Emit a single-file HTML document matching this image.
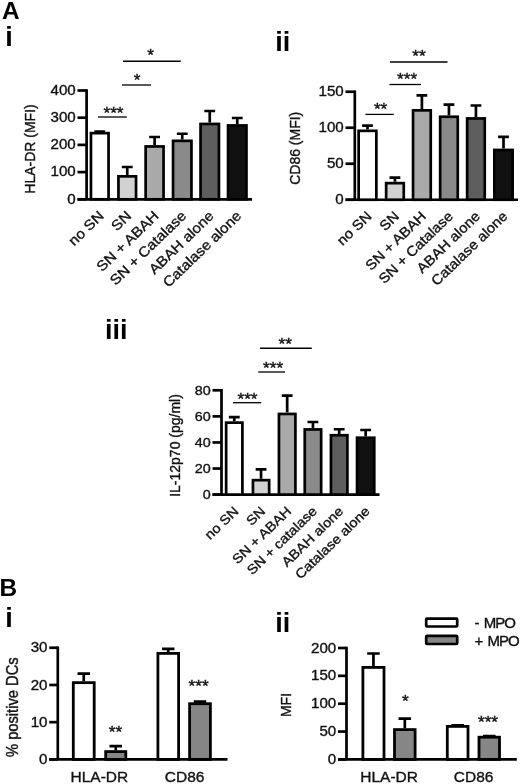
<!DOCTYPE html>
<html lang="en"><head><meta charset="utf-8"><title>Figure</title>
<style>
html,body{margin:0;padding:0;background:#fff}
svg{display:block}
text{stroke:#111;stroke-width:0.35px;font-family:"Liberation Sans",Arial,Helvetica,sans-serif;fill:#111;font-size:14px;letter-spacing:0}
.a{stroke:#000;stroke-width:2.7;fill:none}
.l{stroke:#000;stroke-width:2.7;fill:none}
.s{stroke:#000;stroke-width:1.3;fill:none}
.b{stroke:#000;stroke-width:2.7}
.tk{text-anchor:end}
.st{text-anchor:middle;font-size:16px}
.xl{text-anchor:end}
.yl{text-anchor:middle}
.cl{text-anchor:middle;font-size:15.5px}
.lg{font-size:15px;letter-spacing:-1px;word-spacing:2px}
.pl{font-weight:bold;fill:#000;letter-spacing:0;stroke:none}
</style></head><body>
<svg width="520" height="784" viewBox="0 0 520 784">
<rect width="520" height="784" fill="#fff"/>
<path d="M86.60 89.15V199.30M77.50 199.30H252.00" class="a"/><path d="M77.50 199.30H86.60" class="a"/><text transform="translate(75.70 203.50) scale(1.08 1)" class="tk">0</text><path d="M77.50 172.10H86.60" class="a"/><text transform="translate(75.70 176.30) scale(1.08 1)" class="tk">100</text><path d="M77.50 144.90H86.60" class="a"/><text transform="translate(75.70 149.10) scale(1.08 1)" class="tk">200</text><path d="M77.50 117.70H86.60" class="a"/><text transform="translate(75.70 121.90) scale(1.08 1)" class="tk">300</text><path d="M77.50 90.50H86.60" class="a"/><text transform="translate(75.70 94.70) scale(1.08 1)" class="tk">400</text>
<path d="M99.75 131.80V131.60M94.35 131.60H105.15" class="l"/><rect x="90.95" y="133.15" width="17.60" height="66.15" fill="#ffffff" class="b" style="stroke-width:2.7"/>
<path d="M127.25 175.00V167.00M121.85 167.00H132.65" class="l"/><rect x="118.45" y="176.35" width="17.60" height="22.95" fill="#d2d2d2" class="b" style="stroke-width:2.7"/>
<path d="M154.60 145.10V137.00M149.20 137.00H160.00" class="l"/><rect x="145.65" y="146.45" width="17.90" height="52.85" fill="#a9a9a9" class="b" style="stroke-width:2.7"/>
<path d="M182.25 139.50V133.75M176.85 133.75H187.65" class="l"/><rect x="173.05" y="140.85" width="18.40" height="58.45" fill="#8a8a8a" class="b" style="stroke-width:2.7"/>
<path d="M209.75 122.60V111.00M204.35 111.00H215.15" class="l"/><rect x="200.55" y="123.95" width="18.40" height="75.35" fill="#5e5e5e" class="b" style="stroke-width:2.7"/>
<path d="M237.25 124.10V118.00M231.85 118.00H242.65" class="l"/><rect x="228.05" y="125.45" width="18.40" height="73.85" fill="#111111" class="b" style="stroke-width:2.7"/>
<path d="M123.00 61.25H180.75" class="s"/><text transform="translate(150.70 61.25) scale(1.08 1)" class="st">*</text>
<path d="M122.00 85.00H151.00" class="s"/><text transform="translate(137.00 86.00) scale(1.08 1)" class="st">*</text>
<path d="M98.00 117.00H126.80" class="s"/><text transform="translate(113.50 119.00) scale(1.08 1)" class="st">***</text>
<text transform="translate(104.75 216.80) rotate(-44) scale(1.1 1)" class="xl">no SN</text>
<text transform="translate(132.25 216.80) rotate(-44) scale(1.1 1)" class="xl">SN</text>
<text transform="translate(159.60 216.80) rotate(-44) scale(1.1 1)" class="xl">SN + ABAH</text>
<text transform="translate(187.25 216.80) rotate(-44) scale(1.1 1)" class="xl">SN + Catalase</text>
<text transform="translate(214.75 216.80) rotate(-44) scale(1.1 1)" class="xl">ABAH alone</text>
<text transform="translate(242.25 216.80) rotate(-44) scale(1.1 1)" class="xl">Catalase alone</text>
<text transform="translate(35.20 149.00) rotate(-90) scale(1.0 1.04)" class="yl">HLA-DR (MFI)</text>
<path d="M354.80 90.40V199.75M345.50 199.75H518.00" class="a"/><path d="M345.50 199.75H354.80" class="a"/><text transform="translate(343.70 203.85) scale(1.08 1)" class="tk">0</text><path d="M345.50 163.75H354.80" class="a"/><text transform="translate(343.70 167.85) scale(1.08 1)" class="tk">50</text><path d="M345.50 127.75H354.80" class="a"/><text transform="translate(343.70 131.85) scale(1.08 1)" class="tk">100</text><path d="M345.50 91.75H354.80" class="a"/><text transform="translate(343.70 95.85) scale(1.08 1)" class="tk">150</text>
<path d="M367.50 129.50V125.60M362.10 125.60H372.90" class="l"/><rect x="358.65" y="130.85" width="17.70" height="68.90" fill="#ffffff" class="b" style="stroke-width:2.7"/>
<path d="M394.95 181.80V177.60M389.55 177.60H400.35" class="l"/><rect x="386.15" y="183.15" width="17.60" height="16.60" fill="#d2d2d2" class="b" style="stroke-width:2.7"/>
<path d="M421.90 109.00V95.40M416.50 95.40H427.30" class="l"/><rect x="413.05" y="110.35" width="17.70" height="89.40" fill="#a9a9a9" class="b" style="stroke-width:2.7"/>
<path d="M448.95 115.40V104.60M443.55 104.60H454.35" class="l"/><rect x="440.15" y="116.75" width="17.60" height="83.00" fill="#8a8a8a" class="b" style="stroke-width:2.7"/>
<path d="M475.95 117.10V105.50M470.55 105.50H481.35" class="l"/><rect x="467.15" y="118.45" width="17.60" height="81.30" fill="#5e5e5e" class="b" style="stroke-width:2.7"/>
<path d="M503.50 148.60V136.80M498.10 136.80H508.90" class="l"/><rect x="494.35" y="149.95" width="18.30" height="49.80" fill="#111111" class="b" style="stroke-width:2.7"/>
<path d="M390.00 62.00H447.50" class="s"/><text transform="translate(418.90 62.00) scale(1.08 1)" class="st">**</text>
<path d="M389.50 84.50H421.00" class="s"/><text transform="translate(407.20 85.40) scale(1.08 1)" class="st">***</text>
<path d="M365.50 114.40H393.75" class="s"/><text transform="translate(380.60 115.30) scale(1.08 1)" class="st">**</text>
<text transform="translate(372.50 217.25) rotate(-44) scale(1.07 1)" class="xl">no SN</text>
<text transform="translate(399.95 217.25) rotate(-44) scale(1.07 1)" class="xl">SN</text>
<text transform="translate(426.90 217.25) rotate(-44) scale(1.07 1)" class="xl">SN + ABAH</text>
<text transform="translate(453.95 217.25) rotate(-44) scale(1.07 1)" class="xl">SN + Catalase</text>
<text transform="translate(480.95 217.25) rotate(-44) scale(1.07 1)" class="xl">ABAH alone</text>
<text transform="translate(508.50 217.25) rotate(-44) scale(1.07 1)" class="xl">Catalase alone</text>
<text transform="translate(300.00 148.30) rotate(-90) scale(1.0 1.04)" class="yl">CD86 (MFI)</text>
<path d="M221.50 388.95V494.60M212.50 494.60H379.50" class="a"/><path d="M212.50 494.60H221.50" class="a"/><text transform="translate(210.70 499.20) scale(1.08 1)" class="tk" style="font-size:13.30px">0</text><path d="M212.50 468.53H221.50" class="a"/><text transform="translate(210.70 473.13) scale(1.08 1)" class="tk" style="font-size:13.30px">20</text><path d="M212.50 442.45H221.50" class="a"/><text transform="translate(210.70 447.05) scale(1.08 1)" class="tk" style="font-size:13.30px">40</text><path d="M212.50 416.38H221.50" class="a"/><text transform="translate(210.70 420.98) scale(1.08 1)" class="tk" style="font-size:13.30px">60</text><path d="M212.50 390.30H221.50" class="a"/><text transform="translate(210.70 394.90) scale(1.08 1)" class="tk" style="font-size:13.30px">80</text>
<path d="M234.28 421.30V417.20M228.88 417.20H239.68" class="l"/><rect x="226.15" y="422.65" width="16.25" height="71.95" fill="#ffffff" class="b" style="stroke-width:2.7"/>
<path d="M261.05 478.80V469.40M255.65 469.40H266.45" class="l"/><rect x="252.95" y="480.15" width="16.20" height="14.45" fill="#d2d2d2" class="b" style="stroke-width:2.7"/>
<path d="M287.18 412.60V395.60M281.78 395.60H292.57" class="l"/><rect x="278.95" y="413.95" width="16.45" height="80.65" fill="#a9a9a9" class="b" style="stroke-width:2.7"/>
<path d="M312.95 428.10V422.00M307.55 422.00H318.35" class="l"/><rect x="304.75" y="429.45" width="16.40" height="65.15" fill="#8a8a8a" class="b" style="stroke-width:2.7"/>
<path d="M339.18 433.90V429.25M333.78 429.25H344.57" class="l"/><rect x="330.95" y="435.25" width="16.45" height="59.35" fill="#5e5e5e" class="b" style="stroke-width:2.7"/>
<path d="M365.65 436.40V430.00M360.25 430.00H371.05" class="l"/><rect x="357.05" y="437.75" width="17.20" height="56.85" fill="#111111" class="b" style="stroke-width:2.7"/>
<path d="M260.00 348.25H311.75" class="s"/><text transform="translate(285.20 350.00) scale(1.08 1)" class="st">**</text>
<path d="M258.25 372.00H285.00" class="s"/><text transform="translate(273.20 374.00) scale(1.08 1)" class="st">***</text>
<path d="M233.00 402.70H261.20" class="s"/><text transform="translate(247.50 405.30) scale(1.08 1)" class="st">***</text>
<text transform="translate(239.28 512.10) rotate(-44) scale(1.1 1)" class="xl" style="font-size:13.30px">no SN</text>
<text transform="translate(266.05 512.10) rotate(-44) scale(1.1 1)" class="xl" style="font-size:13.30px">SN</text>
<text transform="translate(292.18 512.10) rotate(-44) scale(1.1 1)" class="xl" style="font-size:13.30px">SN + ABAH</text>
<text transform="translate(317.95 512.10) rotate(-44) scale(1.1 1)" class="xl" style="font-size:13.30px">SN + catalase</text>
<text transform="translate(344.18 512.10) rotate(-44) scale(1.1 1)" class="xl" style="font-size:13.30px">ABAH alone</text>
<text transform="translate(370.65 512.10) rotate(-44) scale(1.1 1)" class="xl" style="font-size:13.30px">Catalase alone</text>
<text transform="translate(180.00 445.50) rotate(-90) scale(1.0 1.04)" class="yl">IL-12p70 (pg/ml)</text>
<path d="M57.80 646.40V759.40M49.25 759.40H227.50" class="a"/><path d="M49.25 759.40H57.80" class="a"/><text transform="translate(47.45 764.00) scale(1.08 1)" class="tk">0</text><path d="M49.25 722.18H57.80" class="a"/><text transform="translate(47.45 726.78) scale(1.08 1)" class="tk">10</text><path d="M49.25 684.97H57.80" class="a"/><text transform="translate(47.45 689.57) scale(1.08 1)" class="tk">20</text><path d="M49.25 647.75H57.80" class="a"/><text transform="translate(47.45 652.35) scale(1.08 1)" class="tk">30</text>
<path d="M83.75 681.25V673.60M77.50 673.60H90.00" class="l"/><rect x="73.30" y="682.65" width="20.90" height="76.75" fill="#fff" class="b" style="stroke-width:2.8"/>
<path d="M115.75 750.20V746.20M109.50 746.20H122.00" class="l"/><rect x="105.70" y="751.60" width="20.10" height="7.80" fill="#868686" class="b" style="stroke-width:2.8"/>
<path d="M168.25 652.00V648.90M162.00 648.90H174.50" class="l"/><rect x="157.90" y="653.40" width="20.70" height="106.00" fill="#fff" class="b" style="stroke-width:2.8"/>
<path d="M200.00 702.30V701.60M193.75 701.60H206.25" class="l"/><rect x="189.60" y="703.70" width="20.80" height="55.70" fill="#868686" class="b" style="stroke-width:2.8"/>
<text transform="translate(115.40 738.00) scale(1.08 1)" class="st">**</text>
<text transform="translate(198.60 692.00) scale(1.08 1)" class="st">***</text>
<text transform="translate(99.40 782.20) scale(1.0 1)" class="cl">HLA-DR</text>
<text transform="translate(184.60 782.20) scale(1.0 1)" class="cl">CD86</text>
<text transform="translate(17.90 707.20) rotate(-90) scale(1.05 1.12)" class="yl">% positive DCs</text>
<path d="M346.50 646.65V759.40M338.00 759.40H516.80" class="a"/><path d="M338.00 759.40H346.50" class="a"/><text transform="translate(336.20 764.00) scale(1.08 1)" class="tk">0</text><path d="M338.00 731.55H346.50" class="a"/><text transform="translate(336.20 736.15) scale(1.08 1)" class="tk">50</text><path d="M338.00 703.70H346.50" class="a"/><text transform="translate(336.20 708.30) scale(1.08 1)" class="tk">100</text><path d="M338.00 675.85H346.50" class="a"/><text transform="translate(336.20 680.45) scale(1.08 1)" class="tk">150</text><path d="M338.00 648.00H346.50" class="a"/><text transform="translate(336.20 652.60) scale(1.08 1)" class="tk">200</text>
<path d="M373.45 666.00V653.50M367.20 653.50H379.70" class="l"/><rect x="362.90" y="667.40" width="21.10" height="92.00" fill="#fff" class="b" style="stroke-width:2.8"/>
<path d="M404.80 728.20V718.70M398.55 718.70H411.05" class="l"/><rect x="394.50" y="729.60" width="20.60" height="29.80" fill="#868686" class="b" style="stroke-width:2.8"/>
<path d="M457.65 725.00V725.30M451.40 725.30H463.90" class="l"/><rect x="447.30" y="726.40" width="20.70" height="33.00" fill="#fff" class="b" style="stroke-width:2.8"/>
<path d="M489.25 735.80V736.00M483.00 736.00H495.50" class="l"/><rect x="479.00" y="737.20" width="20.50" height="22.20" fill="#868686" class="b" style="stroke-width:2.8"/>
<text transform="translate(405.30 707.30) scale(1.08 1)" class="st">*</text>
<text transform="translate(488.00 727.60) scale(1.08 1)" class="st">***</text>
<text transform="translate(389.10 782.00) scale(1.0 1)" class="cl">HLA-DR</text>
<text transform="translate(473.60 782.00) scale(1.0 1)" class="cl">CD86</text>
<text transform="translate(290.50 705.00) rotate(-90) scale(1.0 1.04)" class="yl">MFI</text>
<rect x="426.2" y="618.7" width="31" height="7.8" rx="0.8" fill="#fff" class="b"/>
<rect x="426.2" y="635.8" width="31" height="8.2" rx="0.8" fill="#868686" class="b"/>
<text transform="translate(474.60 628.00) scale(1.0 1)" class="lg">- MPO</text>
<text transform="translate(474.60 645.50) scale(1.0 1)" class="lg">+ MPO</text>
<text x="2" y="19.2" class="pl" style="font-size:24.4px">A</text>
<text x="5.2" y="45.8" class="pl" style="font-size:27px">i</text>
<text x="275.3" y="50.8" class="pl" style="font-size:27px">ii</text>
<text x="105" y="339.2" class="pl" style="font-size:27px">iii</text>
<text x="-0.6" y="596" class="pl" style="font-size:24.4px">B</text>
<text x="5.2" y="627.3" class="pl" style="font-size:27px">i</text>
<text x="275.3" y="632" class="pl" style="font-size:27px">ii</text>
</svg>
</body></html>
